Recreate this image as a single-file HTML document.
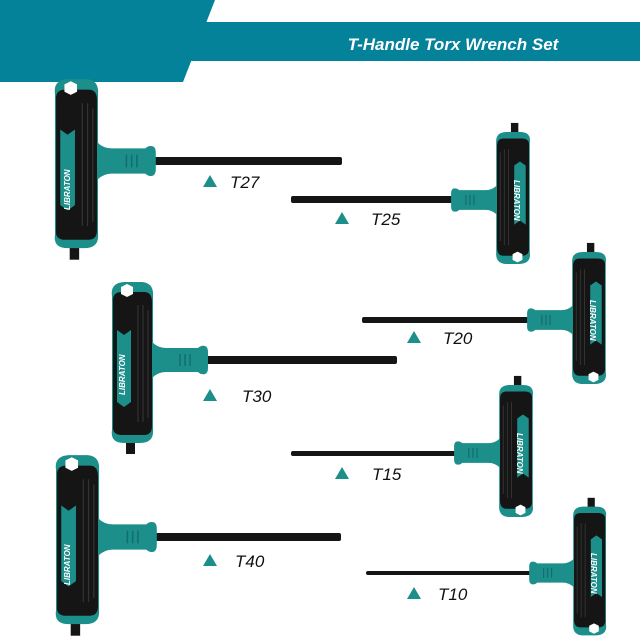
<!DOCTYPE html>
<html><head><meta charset="utf-8"><style>
html,body{margin:0;padding:0;background:#fff;}
svg{display:block}
.lb{font-family:"Liberation Sans",sans-serif;font-style:italic;font-size:17px;fill:#111}
.br{font-family:"Liberation Sans",sans-serif;font-style:italic;font-weight:bold;font-size:8px;fill:#fff}
</style></head><body>
<svg width="640" height="640" viewBox="0 0 640 640" xmlns="http://www.w3.org/2000/svg">
<defs>
<g id="w">
  <rect x="-26" y="70" width="9" height="24" fill="#151515"/>
  <path d="M-40,-64 Q-42,-77 -28,-78 L-10,-78 Q2,-77 1,-64 L1,70 Q2,83 -12,83 L-28,83 Q-42,83 -40,70 Z" fill="#1d8f8b"/>
  <path d="M-39,-58 Q-40,-68 -30,-68 L-8,-68 Q0,-68 0,-58 L0,66 Q0,75 -8,75 L-30,75 Q-40,75 -39,66 Z" fill="#151515"/>
  <path d="M-31,-73 L-25,-76 L-19,-73 L-19,-66 L-25,-63 L-31,-66 Z" fill="#fff"/>
  <g stroke="#333" stroke-width="1.2">
    <line x1="-14" y1="-55" x2="-14" y2="62"/><line x1="-9" y1="-55" x2="-9" y2="62"/><line x1="-4" y1="-50" x2="-4" y2="58"/>
  </g>
  <path d="M-35,-30 L-28,-25 L-21,-30 L-21,42 L-28,47 L-35,42 Z" fill="#1d8f8b"/>
  <path d="M0,-18 Q6,-12 14,-12 L46,-12 Q49,-15 53,-14 Q56,-13 56,-8 L56,8 Q56,13 53,14 Q49,15 46,12 L14,12 Q6,12 0,18 Z" fill="#1d8f8b"/>
  <g stroke="#136e6b" stroke-width="1.5"><line x1="28" y1="-6" x2="28" y2="6"/><line x1="33" y1="-6" x2="33" y2="6"/><line x1="38" y1="-6" x2="38" y2="6"/></g>
</g>
</defs>
<polygon points="0,0 215,0 183,82 0,82" fill="#03829a"/>
<rect x="180" y="22" width="460" height="39" fill="#03829a"/>
<text x="453" y="50" text-anchor="middle" style="font-family:'Liberation Sans',sans-serif;font-style:italic;font-weight:bold;font-size:17px;fill:#fff">T-Handle Torx Wrench Set</text>

<g fill="#151515">
<rect x="150" y="157" width="192" height="8" rx="2"/>
<rect x="205" y="356" width="192" height="8" rx="2"/>
<rect x="152" y="533" width="189" height="8" rx="2"/>
<rect x="291" y="196" width="166" height="7" rx="2"/>
<rect x="362" y="317" width="170" height="6" rx="2"/>
<rect x="291" y="451" width="168" height="5" rx="2"/>
<rect x="366" y="571" width="168" height="4" rx="2"/>
</g>

<use href="#w" transform="translate(97,161) scale(1.05)"/>
<use href="#w" transform="translate(152,360)"/>
<use href="#w" transform="translate(98,537) scale(1.05)"/>
<use href="#w" transform="translate(497,200) rotate(180) scale(0.82)"/>
<use href="#w" transform="translate(573,320) rotate(180) scale(0.82)"/>
<use href="#w" transform="translate(500,453) rotate(180) scale(0.82)"/>
<use href="#w" transform="translate(574,573) rotate(180) scale(0.8)"/>

<text class="br" transform="translate(70,210) rotate(-90)">LIBRATON</text>
<text class="br" transform="translate(125,395) rotate(-90)">LIBRATON</text>
<text class="br" transform="translate(70,585) rotate(-90)">LIBRATON</text>
<text class="br" transform="translate(514,180) rotate(90)">LIBRATON</text>
<text class="br" transform="translate(590,300) rotate(90)">LIBRATON</text>
<text class="br" transform="translate(517,433) rotate(90)">LIBRATON</text>
<text class="br" transform="translate(591,553) rotate(90)">LIBRATON</text>

<g fill="#1d8f8b">
<polygon points="210,175 217,187 203,187"/>
<polygon points="342,212 349,224 335,224"/>
<polygon points="414,331 421,343 407,343"/>
<polygon points="210,389 217,401 203,401"/>
<polygon points="342,467 349,479 335,479"/>
<polygon points="210,554 217,566 203,566"/>
<polygon points="414,587 421,599 407,599"/>
</g>
<text class="lb" x="230" y="188">T27</text>
<text class="lb" x="371" y="225">T25</text>
<text class="lb" x="443" y="344">T20</text>
<text class="lb" x="242" y="402">T30</text>
<text class="lb" x="372" y="480">T15</text>
<text class="lb" x="235" y="567">T40</text>
<text class="lb" x="438" y="600">T10</text>
</svg>
</body></html>
